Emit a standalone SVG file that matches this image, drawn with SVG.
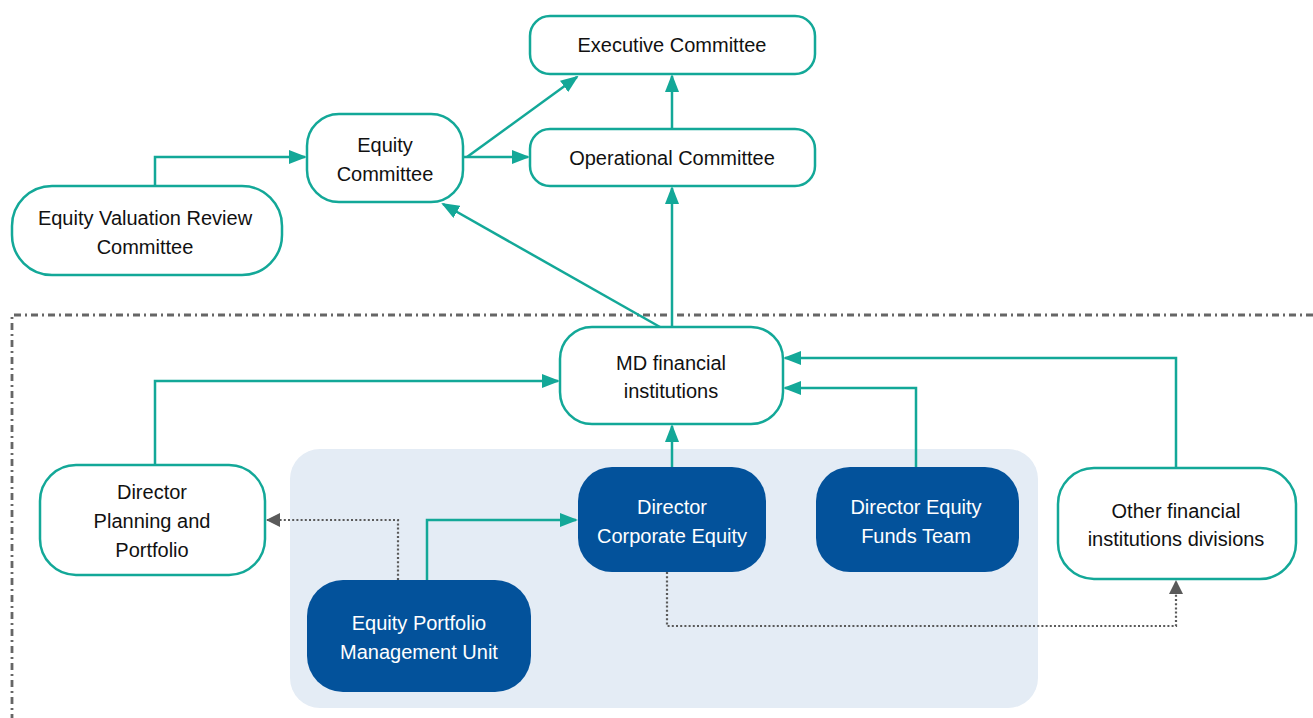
<svg xmlns="http://www.w3.org/2000/svg" width="1313" height="718" viewBox="0 0 1313 718">
<style>
.n{fill:#fff;stroke:#13a898;stroke-width:2.5}
.d{fill:#03529b}
.t{font-family:"Liberation Sans",Arial,sans-serif;font-size:20px;fill:#111;text-anchor:middle}
.tw{font-family:"Liberation Sans",Arial,sans-serif;font-size:20px;fill:#fff;text-anchor:middle}
.c{fill:none;stroke:#13a898;stroke-width:2.5}
.g{fill:none;stroke:#5a5a5a;stroke-width:2.2;stroke-dasharray:2 2.2}
</style>
<defs>
<marker id="a" markerUnits="userSpaceOnUse" markerWidth="18" markerHeight="14" refX="16" refY="7" orient="auto"><path d="M0,0 L18,7 L0,14 Z" fill="#13a898"/></marker>
<marker id="ag" markerUnits="userSpaceOnUse" markerWidth="14" markerHeight="14" refX="13" refY="7" orient="auto"><path d="M0,0 L14,7 L0,14 Z" fill="#5a5a5a"/></marker>
</defs>
<rect width="1313" height="718" fill="#fff"/>
<path d="M1313,315 H12 V718" fill="none" stroke="#666" stroke-width="2.8" stroke-dasharray="7 4 2 4"/>
<rect x="290" y="449" width="748" height="259" rx="30" fill="#e4ecf5"/>
<g id="connectors">
<path class="c" d="M155,186 V157 H305" marker-end="url(#a)"/>
<path class="c" d="M463,157 H528" marker-end="url(#a)"/>
<path class="c" d="M467,157 L577,77" marker-end="url(#a)"/>
<path class="c" d="M672,129 V76" marker-end="url(#a)"/>
<path class="c" d="M672,327 V188" marker-end="url(#a)"/>
<path class="c" d="M660,327 L443,204" marker-end="url(#a)"/>
<path class="c" d="M155,465 V381 H558" marker-end="url(#a)"/>
<path class="c" d="M672,467 V426" marker-end="url(#a)"/>
<path class="c" d="M916,467 V388 H785" marker-end="url(#a)"/>
<path class="c" d="M1176,468 V358 H785" marker-end="url(#a)"/>
<path class="c" d="M427,580 V520 H576" marker-end="url(#a)"/>
<path class="g" d="M398,580 V520 H267" marker-end="url(#ag)"/>
<path class="g" d="M667,572 V626 H1176 V581" marker-end="url(#ag)"/>
</g>
<g id="exec"><rect class="n" x="530" y="16" width="285" height="58" rx="20"/><text class="t" x="672" y="52">Executive Committee</text></g>
<g id="oper"><rect class="n" x="530" y="129" width="285" height="57" rx="20"/><text class="t" x="672" y="165">Operational Committee</text></g>
<g id="equity"><rect class="n" x="307" y="114" width="156" height="88" rx="32"/><text class="t" x="385" y="152">Equity</text><text class="t" x="385" y="181">Committee</text></g>
<g id="evrc"><rect class="n" x="12" y="186" width="270" height="89" rx="40"/><text class="t" x="145" y="225">Equity Valuation Review</text><text class="t" x="145" y="254">Committee</text></g>
<g id="md"><rect class="n" x="560" y="327" width="223" height="97" rx="32"/><text class="t" x="671" y="370">MD financial</text><text class="t" x="671" y="398">institutions</text></g>
<g id="dpp"><rect class="n" x="40" y="465" width="225" height="110" rx="36"/><text class="t" x="152" y="499">Director</text><text class="t" x="152" y="528">Planning and</text><text class="t" x="152" y="557">Portfolio</text></g>
<g id="dce"><rect class="d" x="578" y="467" width="188" height="105" rx="34"/><text class="tw" x="672" y="514">Director</text><text class="tw" x="672" y="543">Corporate Equity</text></g>
<g id="dft"><rect class="d" x="816" y="467" width="203" height="105" rx="34"/><text class="tw" x="916" y="514">Director Equity</text><text class="tw" x="916" y="543">Funds Team</text></g>
<g id="other"><rect class="n" x="1058" y="468" width="238" height="111" rx="36"/><text class="t" x="1176" y="518">Other financial</text><text class="t" x="1176" y="546">institutions divisions</text></g>
<g id="epmu"><rect class="d" x="307" y="580" width="224" height="112" rx="36"/><text class="tw" x="419" y="630">Equity Portfolio</text><text class="tw" x="419" y="659">Management Unit</text></g>
</svg>
